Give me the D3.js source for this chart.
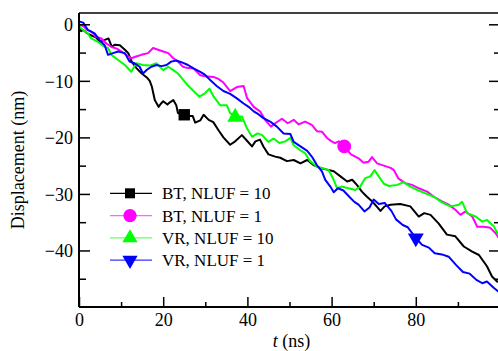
<!DOCTYPE html>
<html>
<head>
<meta charset="utf-8">
<script src="https://cdn.jsdelivr.net/npm/d3@7"></script>
<style>
  body { margin: 0; background: #fff; }
</style>
</head>
<body>
<div id="chart"></div>
<script>
// series: [t (ns), displacement (nm)]
const btNluf10 = [[0,-0.3],[0.5,-1.2],[1,-1.0],[2,-1.6],[3,-2.0],[4,-2.3],[5,-3.1],[6,-2.8],[7,-2.5],[7.8,-4.0],[8.5,-3.6],[9.7,-3.7],[10.9,-4.5],[11.7,-5.1],[12.5,-6.6],[13.7,-7.8],[14.9,-8.7],[16.1,-9.4],[16.8,-10.0],[17.3,-11],[18,-13.4],[18.9,-14.6],[19.5,-14.0],[20,-13.6],[21,-14.2],[21.6,-13.8],[22.4,-13.4],[23.1,-14.3],[23.5,-15.7],[24.7,-16.0],[26,-16.2],[27,-16.2],[27.6,-17.4],[28.8,-17.0],[29.6,-16.0],[30.8,-16.9],[31.9,-17.3],[33.1,-18.7],[34.3,-20.0],[35.9,-21.3],[37.1,-20.7],[38.7,-19.6],[39.9,-20.6],[41.1,-21.6],[41.9,-20.7],[43,-20.4],[43.8,-21.6],[45,-23.0],[46.6,-23.4],[47.8,-23.6],[49.4,-24.2],[51,-24],[52.6,-24.6],[54.2,-24],[55.7,-24.9],[57.3,-25.4],[58.9,-25.7],[60.5,-26],[62.1,-26.9],[63.7,-27.8],[64.9,-27.5],[66,-28.4],[67.2,-29.6],[68.4,-30.5],[69.6,-31.3],[70.8,-32.3],[71.6,-33.0],[72.6,-32.2],[74,-31.9],[76.3,-31.8],[78.7,-32.2],[80.7,-34],[82,-33.4],[83.5,-33.7],[85.4,-35.2],[87.4,-37.2],[89.4,-37.5],[91.4,-39.3],[93.4,-40.2],[95,-40.8],[96.9,-42.8],[98.1,-44.6],[99.3,-45.5],[100,-45.6]];
const btNluf1 = [[0,0],[1,-0.3],[2,-1.0],[2.9,-1.3],[4,-2.2],[5.3,-2.5],[6.5,-3.4],[7.7,-4.0],[9,-4.3],[10,-4.8],[11,-5.3],[12.4,-6.0],[13.6,-5.7],[14.8,-5.4],[16.4,-5.1],[17.6,-4.2],[18.8,-4.5],[20,-4.8],[21.2,-5.1],[22.4,-6.0],[23.5,-6.6],[24.7,-7.5],[25.6,-7.7],[27.2,-7.8],[28.8,-9.0],[30,-9.2],[31.9,-9.3],[33,-9.6],[34.3,-10.3],[35.9,-11.8],[37.5,-11.1],[39.1,-10.9],[39.9,-13.0],[40.3,-13.4],[41.5,-14.6],[43,-15.4],[44.2,-16.9],[45.6,-18.1],[46.6,-17.5],[48.2,-16.7],[49.6,-17.5],[51,-16.9],[52.2,-17.7],[53.7,-17.2],[55.3,-17.8],[56.5,-18.9],[57.7,-19.0],[58.9,-20.1],[60,-20.7],[60.8,-21],[61.7,-20.7],[63,-21.6],[64.6,-23.0],[66.4,-23.7],[67.6,-24.5],[68.8,-24.3],[69.6,-23.5],[70.8,-24.6],[72.4,-25.0],[74,-25.4],[74.8,-25.8],[75.9,-27.3],[77.5,-28.1],[79.1,-28.4],[80.7,-29],[82.7,-29.6],[84.3,-30.5],[86.2,-31.3],[87.8,-31.9],[89.4,-32.8],[90.6,-33.7],[91.8,-33.1],[93.4,-34],[94.6,-35.8],[96.1,-35.8],[97.7,-36],[98.9,-36.9],[100,-38.1]];
const vrNluf10 = [[0,-0.4],[1,-1.0],[2.1,-1.6],[2.9,-2.5],[4.5,-3.1],[6.1,-4.0],[6.9,-4.2],[7.7,-5.4],[9.3,-6.3],[10.9,-7.2],[12.4,-8.4],[13.6,-6.9],[15.2,-7.2],[16.8,-7.3],[18.4,-6.9],[20,-8.1],[21.2,-7.5],[22.4,-8.1],[23.5,-8.7],[24.5,-9.6],[25.6,-10.6],[27.2,-11.8],[28.6,-12.8],[29.9,-12.2],[31,-11.4],[32,-12.8],[33.5,-14.3],[35.1,-14.3],[35.9,-15.7],[37.1,-16.4],[38.7,-16.3],[39.9,-18.4],[41.1,-19.9],[42.4,-19.3],[43.5,-19.6],[45,-20.8],[46.2,-20.2],[47.6,-21],[49,-20.7],[50.2,-20.1],[51,-21.4],[52.4,-22.2],[53.7,-22.8],[54.9,-24.2],[56.5,-25.2],[57.7,-25.4],[59.3,-25.8],[60.5,-27.5],[61.3,-29],[62.4,-28.7],[64,-29],[65.6,-29.3],[66.8,-28.7],[68,-27.2],[69.2,-26.9],[70.2,-25.8],[71.2,-26.9],[72.4,-28.2],[73.6,-28.6],[75.6,-28.4],[77.1,-27.9],[78.7,-28.7],[80.3,-29.3],[82.3,-29.9],[84.3,-30.5],[86.2,-31.5],[88.2,-32.2],[90.2,-31.9],[91,-31.4],[92.2,-33.4],[94.2,-34],[95.8,-34.9],[96.9,-34.6],[98.5,-35.7],[100,-37.8]];
const vrNluf1 = [[0,0.5],[1,0.3],[2.1,-1.0],[3.7,-1.6],[4.9,-2.8],[6.1,-3.7],[6.9,-5.4],[8.1,-5.1],[9.3,-4.8],[10.9,-5.1],[12,-6.6],[13.2,-6.9],[14.4,-7.5],[15.2,-8.7],[16.2,-8.0],[17.2,-7.5],[18.4,-7.2],[19.6,-7.4],[20.8,-7.2],[21.9,-6.6],[23.1,-6.4],[24.3,-6.7],[25.9,-7.2],[27.2,-7.8],[28.8,-8.4],[29.9,-8.9],[31.1,-9.8],[32.7,-10.9],[34.3,-11.8],[35.9,-12.3],[37.5,-13.1],[39.1,-14],[40.3,-14.6],[41.5,-15.4],[42.6,-15.9],[43.8,-16.6],[45.4,-17.2],[47,-18.1],[48.6,-19.3],[50.2,-19.4],[51,-20.8],[52.6,-21.6],[54.2,-22.4],[55.3,-23.4],[56.5,-24.9],[57.7,-26],[58.5,-27.5],[59.7,-28.7],[60.5,-29.7],[61.5,-29],[62.8,-29.4],[64.2,-30.5],[65.4,-31.4],[66.4,-31.9],[67.8,-33.1],[69,-32.4],[70,-31],[71.2,-31.8],[72.6,-31.6],[74.2,-33],[75.3,-34.5],[76.9,-35.5],[78.1,-35.9],[80,-37.8],[81.5,-39],[83.1,-39.5],[84.5,-40.5],[86.2,-40.7],[87.8,-41.1],[89.6,-42.6],[91.2,-43.8],[92.8,-44.1],[94.4,-45.2],[95.8,-45.8],[96.9,-45.5],[98.5,-46.6],[100,-47.5]];

// one marker per curve, at these times
const markerT = [25, 63, 37.1, 80];

const labels = ["BT, NLUF = 10", "BT, NLUF = 1", "VR, NLUF = 10", "VR, NLUF = 1"];
const colors = ["#000000", "#ff00ff", "#00ff00", "#0000ff"];
const legendColors = ["#000000", "#ff66ff", "#66ff66", "#3333ff"];
const symbols = [d3.symbolSquare, d3.symbolCircle, d3.symbolTriangle, d3.symbolTriangle];
const series = [btNluf10, btNluf1, vrNluf10, vrNluf1];

const xTicks = [0, 20, 40, 60, 80];
const xMinor = [10, 30, 50, 70, 90];
const yTicks = [0, -10, -20, -30, -40];
const yMinor = [-5, -15, -25, -35, -45];

const FONT = '"Liberation Serif", "Times New Roman", Times, "DejaVu Serif", serif';
const width = 498, height = 351;
const margin = { top: 13, right: -2, bottom: 44, left: 79 };

const svg = d3.select('#chart').append('svg')
  .attr('width', width).attr('height', height)
  .attr('font-family', FONT);

const x = d3.scaleLinear().domain([0, 100]).range([margin.left, width - margin.right]);
const y = d3.scaleLinear().domain([-50, 2]).range([height - margin.bottom, margin.top]);

const plot = svg.append('g');
plot.append('clipPath').attr('id', 'clip').append('rect')
  .attr('x', x(0)).attr('y', y(2)).attr('width', x(100) - x(0)).attr('height', y(-50) - y(2));

const line = d3.line().x(d => x(d[0])).y(d => y(d[1]));

const curves = plot.append('g').attr('clip-path', 'url(#clip)');
series.forEach((s, i) => {
  curves.append('path').datum(s)
    .attr('d', line)
    .attr('fill', 'none')
    .attr('stroke', colors[i])
    .attr('stroke-width', 2)
    .attr('stroke-linejoin', 'round');
});

// value at marker time, from the nearest read point
function valueAt(s, t) {
  const i = d3.bisector(d => d[0]).center(s, t);
  return s[i][1];
}

series.forEach((s, i) => {
  const t = markerT[i];
  const size = i === 1 ? 150 : (i === 0 ? 130 : 110);
  const rot = i === 3 ? 180 : 0;
  plot.append('path')
    .attr('d', d3.symbol().type(symbols[i]).size(size)())
    .attr('transform', `translate(${x(t)},${y(valueAt(s, t))}) rotate(${rot})`)
    .attr('fill', colors[i]);
});

// frame
const frame = svg.append('g');
frame.append('line').attr('x1', x(0)).attr('x2', x(100)).attr('y1', y(2)).attr('y2', y(2))
  .attr('stroke', '#000').attr('stroke-width', 1.5);
frame.append('line').attr('x1', x(0)).attr('x2', x(100)).attr('y1', y(-50)).attr('y2', y(-50))
  .attr('stroke', '#000').attr('stroke-width', 2);
frame.append('line').attr('x1', x(0)).attr('x2', x(0)).attr('y1', y(2)).attr('y2', y(-50))
  .attr('stroke', '#000').attr('stroke-width', 2);

// axes, ticks pointing inward
svg.append('g').attr('transform', `translate(0,${y(-50)})`)
  .call(d3.axisBottom(x).tickValues(xTicks).tickSize(-10).tickPadding(6).tickFormat(d3.format('d')));
svg.append('g').attr('transform', `translate(0,${y(-50)})`)
  .call(d3.axisBottom(x).tickValues(xMinor).tickSize(-5).tickFormat(''));

const yAxis = svg.append('g').attr('transform', `translate(${x(0)},0)`)
  .call(d3.axisLeft(y).tickValues(yTicks).tickSize(-11).tickPadding(6));
svg.append('g').attr('transform', `translate(${x(0)},0)`)
  .call(d3.axisLeft(y).tickValues(yMinor).tickSize(-7).tickFormat(''));

svg.append('g').attr('transform', `translate(${x(100)},0)`)
  .call(d3.axisRight(y).tickValues(yTicks).tickSize(-11).tickFormat(''));
svg.append('g').attr('transform', `translate(${x(100)},0)`)
  .call(d3.axisRight(y).tickValues(yMinor).tickSize(-6).tickFormat(''));

svg.selectAll('.domain').remove();
svg.selectAll('g').filter(function () { return this.hasAttribute('font-family'); })
  .attr('font-family', FONT).attr('font-size', 18);
svg.selectAll('.tick line').attr('stroke', '#000').attr('stroke-width', 1.5);
svg.selectAll('.tick text').attr('fill', '#000');
yAxis.selectAll('.tick text').attr('dy', '0.35em').attr('x', -6);

// axis titles
svg.append('text')
  .attr('transform', `translate(24,${(y(2) + y(-50)) / 2}) rotate(-90)`)
  .attr('text-anchor', 'middle')
  .attr('font-size', 18)
  .text('Displacement (nm)');

const xl = svg.append('text')
  .attr('x', (x(0) + x(100)) / 2 + 2).attr('y', 347)
  .attr('text-anchor', 'middle')
  .attr('font-size', 18);
xl.append('tspan').attr('font-style', 'italic').text('t');
xl.append('tspan').text(' (ns)');

// legend
const legend = svg.append('g');
labels.forEach((lab, i) => {
  const cy = 193.3 + i * 22.3;
  legend.append('line').attr('x1', 110).attr('x2', 152).attr('y1', cy).attr('y2', cy)
    .attr('stroke', legendColors[i]).attr('stroke-width', 1.2);
  legend.append('path')
    .attr('d', d3.symbol().type(symbols[i]).size(i === 1 ? 140 : 100)())
    .attr('transform', `translate(130,${cy}) rotate(${i === 3 ? 180 : 0})`)
    .attr('fill', colors[i]);
  legend.append('text')
    .attr('x', 162).attr('y', cy + 6)
    .attr('font-size', 17)
    .text(lab);
});
</script>
</body>
</html>
